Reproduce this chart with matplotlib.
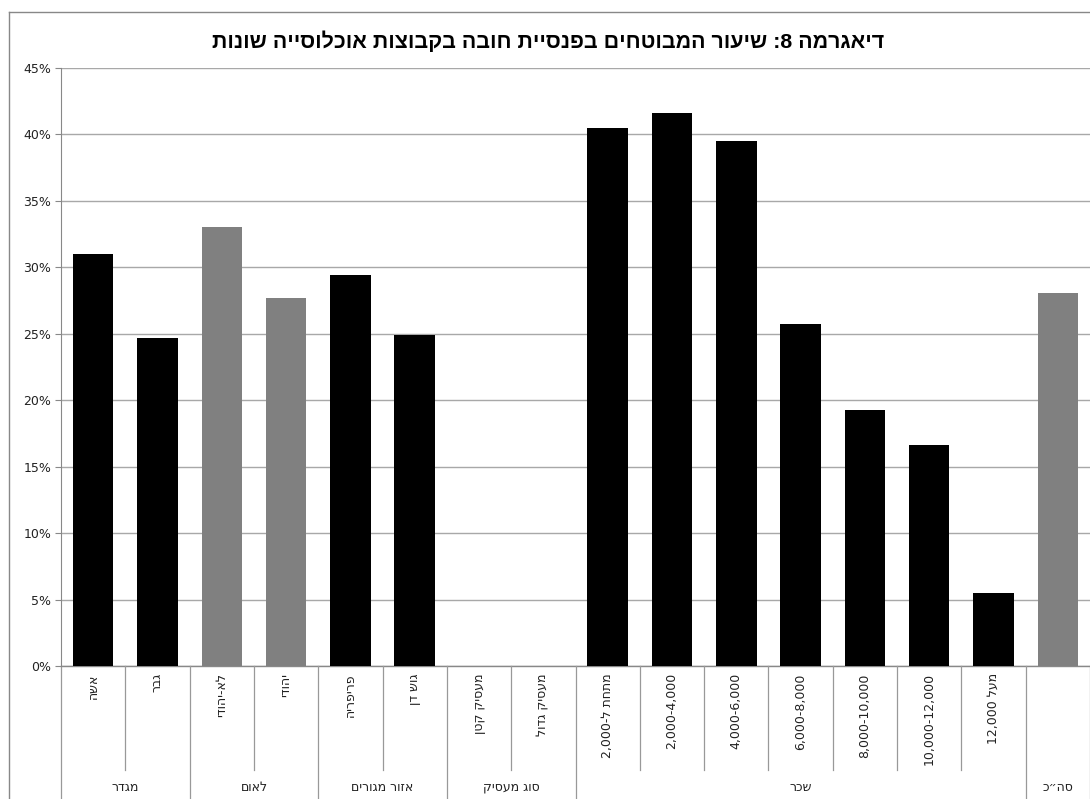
import re
import numpy as np
import matplotlib
matplotlib.use("Agg")
import matplotlib.pyplot as plt
from matplotlib.lines import Line2D
from matplotlib.ticker import PercentFormatter

# chart data (logical Hebrew order)
title = "דיאגרמה 8: שיעור המבוטחים בפנסיית חובה בקבוצות אוכלוסייה שונות"
categories = ["אשה", "גבר", "לא-יהודי", "יהודי", "פריפריה", "גוש דן",
              "מעסיק קטן", "מעסיק גדול",
              "מתחת ל-2,000", "2,000-4,000", "4,000-6,000", "6,000-8,000",
              "8,000-10,000", "10,000-12,000", "מעל 12,000", ""]
values = [31.0, 24.7, 33.0, 27.7, 29.4, 24.9,
          np.nan, np.nan,
          40.5, 41.6, 39.5, 25.7, 19.3, 16.6, 5.5, 28.1]
bar_colors = ["black", "black", "#808080", "#808080", "black", "black",
              "black", "black",
              "black", "black", "black", "black", "black", "black", "black", "#808080"]
groups = ["מגדר", "לאום", "אזור מגורים", "סוג מעסיק", "שכר", "סה״כ"]
group_sizes = [2, 2, 2, 2, 7, 1]
yticks = [0, 5, 10, 15, 20, 25, 30, 35, 40, 45]


def heb(s):
    # crude visual ordering for matplotlib (no bidi support)
    r = s[::-1]
    return re.sub(r"[0-9][0-9,\-]*[0-9]|[0-9]", lambda m: m.group(0)[::-1], r)


label_font = ["DejaVu Sans", "Liberation Sans"]
plt.rcParams["font.family"] = label_font

fig = plt.figure(figsize=(10.9, 7.99), dpi=100)
ax = fig.add_axes([61 / 1090, 1 - 666 / 799, 1 - 61 / 1090, (666 - 68) / 799])

x = np.arange(len(categories)) + 0.5
ax.bar(x, values, width=0.63, color=bar_colors, zorder=3)

ax.set_xlim(0, len(categories))
ax.set_ylim(0, 45)
ax.set_yticks(yticks)
ax.yaxis.set_major_formatter(PercentFormatter(decimals=0))
ax.tick_params(axis="y", length=4, color="#888888", labelsize=9, pad=3, labelcolor="#222222")
ax.set_xticks([])
ax.grid(axis="y", color="#a8a8a8", linewidth=1, zorder=0)
for side in ["top", "right", "bottom"]:
    ax.spines[side].set_visible(False)
ax.spines["left"].set_color("#888888")

# multi-level category axis
trans = ax.get_xaxis_transform()
ax.plot([0, len(categories)], [0, 0], transform=trans, color="#888888", lw=1, clip_on=False)
for i, lab in enumerate(categories):
    if lab:
        ax.text(i + 0.5, -0.012, heb(lab), rotation=90, ha="center", va="top",
                fontsize=9, transform=trans, color="#222222")

start = 0
bounds = [0]
for g, n in zip(groups, group_sizes):
    ax.text(start + n / 2, -0.203, heb(g), ha="center", va="center",
            fontsize=9, transform=trans, color="#222222")
    for k in range(1, n):
        ax.plot([start + k, start + k], [0, -0.174], transform=trans,
                color="#999999", lw=0.9, clip_on=False)
    start += n
    bounds.append(start)
for b in bounds:
    ax.plot([b, b], [0, -0.23], transform=trans, color="#999999", lw=0.9, clip_on=False)

fig.text(548 / 1090, 1 - 41 / 799, heb(title), ha="center", va="center",
         fontsize=15.4, fontweight="bold", family=["Liberation Sans", "DejaVu Sans"])

# outer chart frame
fig.add_artist(Line2D([9 / 1090, 9 / 1090], [0, 1 - 12 / 799], color="#888888", lw=1))
fig.add_artist(Line2D([9 / 1090, 1], [1 - 12 / 799, 1 - 12 / 799], color="#888888", lw=1))

fig.savefig("out.png", dpi=100)
